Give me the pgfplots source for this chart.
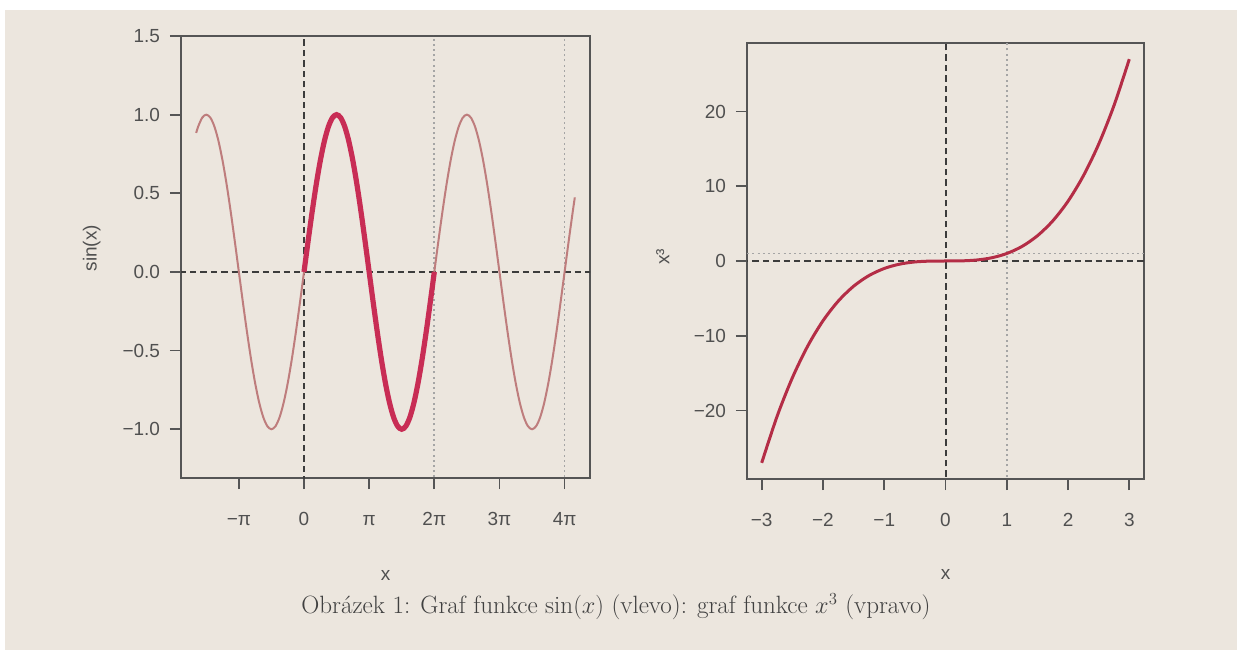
\documentclass[border=0pt]{standalone}
\usepackage{pgfplots}
\usepackage{pgfplotstable}
\pgfplotsset{compat=1.18}
\usepackage{fontspec}
\setsansfont{Liberation Sans}
\definecolor{bg}{RGB}{236,230,222}
\definecolor{axcol}{RGB}{85,85,85}
\definecolor{txtcol}{RGB}{80,80,80}
\definecolor{thinred}{RGB}{190,125,125}
\definecolor{thickred}{RGB}{200,45,85}
\definecolor{cubered}{RGB}{180,45,70}
\definecolor{dashcol}{RGB}{60,60,60}
\definecolor{dotcol}{RGB}{165,165,165}
\newcommand{\lfont}{\sffamily\fontsize{13.5}{15}\selectfont}
\pgfplotstableread{
x y
-5.2000 0.8835
-5.1051 0.9239
-4.9087 0.9808
-4.7124 1
-4.5160 0.9808
-4.3197 0.9239
-4.1233 0.8315
-3.9270 0.7071
-3.7306 0.5556
-3.5343 0.3827
-3.3379 0.1951
-3.1416 0
-2.9452 -0.1951
-2.7489 -0.3827
-2.5525 -0.5556
-2.3562 -0.7071
-2.1598 -0.8315
-1.9635 -0.9239
-1.7671 -0.9808
-1.5708 -1
-1.3744 -0.9808
-1.1781 -0.9239
-0.9817 -0.8315
-0.7854 -0.7071
-0.5890 -0.5556
-0.3927 -0.3827
-0.1963 -0.1951
0.0000 0
0.1963 0.1951
0.3927 0.3827
0.5890 0.5556
0.7854 0.7071
0.9817 0.8315
1.1781 0.9239
1.3744 0.9808
1.5708 1
1.7671 0.9808
1.9635 0.9239
2.1598 0.8315
2.3562 0.7071
2.5525 0.5556
2.7489 0.3827
2.9452 0.1951
3.1416 0
3.3379 -0.1951
3.5343 -0.3827
3.7306 -0.5556
3.9270 -0.7071
4.1233 -0.8315
4.3197 -0.9239
4.5160 -0.9808
4.7124 -1
4.9087 -0.9808
5.1051 -0.9239
5.3014 -0.8315
5.4978 -0.7071
5.6941 -0.5556
5.8905 -0.3827
6.0868 -0.1951
6.2832 0
6.4795 0.1951
6.6759 0.3827
6.8722 0.5556
7.0686 0.7071
7.2649 0.8315
7.4613 0.9239
7.6576 0.9808
7.8540 1
8.0503 0.9808
8.2467 0.9239
8.4430 0.8315
8.6394 0.7071
8.8357 0.5556
9.0321 0.3827
9.2284 0.1951
9.4248 0
9.6211 -0.1951
9.8175 -0.3827
10.0138 -0.5556
10.2102 -0.7071
10.4065 -0.8315
10.6029 -0.9239
10.7992 -0.9808
10.9956 -1
11.1919 -0.9808
11.3883 -0.9239
11.5846 -0.8315
11.7810 -0.7071
11.9773 -0.5556
12.1737 -0.3827
12.3700 -0.1951
12.5664 0
12.7627 0.1951
12.9591 0.3827
13.0600 0.4740
}\sintable
\pgfplotsset{
  rstyle/.style={
    scale only axis,
    axis line style={draw=axcol, line width=0.45mm},
    every tick/.style={draw=axcol, line width=0.45mm},
    tick align=outside,
    xtick pos=bottom, ytick pos=left,
    major tick length=2.8mm,
    tick label style={font=\lfont, text=txtcol},
    yticklabel style={xshift=-1.2mm},
    xticklabel style={yshift=-5.3mm, text height=1.6ex, text depth=0.2ex, anchor=north},
    clip=true,
    axis background/.style={fill=bg},
  },
  dashl/.style={draw=dashcol, line width=0.5mm, dash pattern=on 1.6mm off 1mm},
  dotl/.style={draw=dotcol, line width=0.45mm, dash pattern=on 0.5mm off 0.8mm},
}
\begin{document}
\begin{tikzpicture}
\useasboundingbox (0,0) rectangle (309.25mm,162.5mm);
\fill[white] (0,0) rectangle (309.25mm,162.5mm);
\fill[bg] (1.25mm,0) rectangle (309.25mm,160mm);

% left plot
\begin{axis}[rstyle,
  at={(45.25mm,43mm)}, anchor=south west,
  width=102.25mm, height=110.5mm,
  xmin=-5.932, xmax=13.792,
  ymin=-1.31, ymax=1.5,
  xtick={-3.14159,0,3.14159,6.28319,9.42478,12.56637},
  xticklabels={−π,0,π,2π,3π,4π},
  ytick={-1,-0.5,0,0.5,1,1.5},
  yticklabels={−1.0,−0.5,0.0,0.5,1.0,1.5},
  xlabel={x}, ylabel={sin(x)},
  every axis x label/.style={at={(axis description cs:0.5,-0.22)}, anchor=center, font=\lfont, text=txtcol},
  every axis y label/.style={at={(axis description cs:-0.218,0.52)}, anchor=center, rotate=90, font=\lfont, text=txtcol},
]
\addplot[dashl] coordinates {(-7,0) (15,0)};
\addplot[dashl] coordinates {(0,-2) (0,2)};
\addplot[dotl] coordinates {(6.28319,-2) (6.28319,2)};
\addplot[dotl] coordinates {(12.56637,-2) (12.56637,2)};
\addplot[thinred, line width=0.5mm, smooth] table[x=x,y=y] {\sintable};
\addplot[thickred, line width=1.3mm, smooth, restrict x to domain=-0.01:6.29] table[x=x,y=y] {\sintable};
\end{axis}

% right plot
\begin{axis}[rstyle,
  at={(186.75mm,42.75mm)}, anchor=south west,
  width=99.25mm, height=109mm,
  xmin=-3.24, xmax=3.24,
  ymin=-29.16, ymax=29.16,
  xtick={-3,-2,-1,0,1,2,3},
  xticklabels={−3,−2,−1,0,1,2,3},
  ytick={-20,-10,0,10,20},
  yticklabels={−20,−10,0,10,20},
  xlabel={x}, ylabel={x³},
  every axis x label/.style={at={(axis description cs:0.5,-0.22)}, anchor=center, font=\lfont, text=txtcol},
  every axis y label/.style={at={(axis description cs:-0.212,0.51)}, anchor=center, rotate=90, font=\lfont, text=txtcol},
]
\addplot[dotl] coordinates {(-4,1) (4,1)};
\addplot[dotl] coordinates {(1,-40) (1,40)};
\addplot[dashl] coordinates {(-4,0) (4,0)};
\addplot[dashl] coordinates {(0,-40) (0,40)};
\addplot[cubered, line width=0.75mm, smooth] coordinates {
(-3,-27) (-2.75,-20.797) (-2.5,-15.625) (-2.25,-11.391) (-2,-8) (-1.75,-5.359)
(-1.5,-3.375) (-1.25,-1.953) (-1,-1) (-0.75,-0.422) (-0.5,-0.125) (-0.25,-0.0156)
(0,0) (0.25,0.0156) (0.5,0.125) (0.75,0.422) (1,1) (1.25,1.953) (1.5,3.375)
(1.75,5.359) (2,8) (2.25,11.391) (2.5,15.625) (2.75,20.797) (3,27)};
\end{axis}

\node[text=txtcol!80!black, font=\fontsize{17.8}{20}\selectfont] at (154mm,10.75mm)
  {Obrázek 1: Graf funkce $\sin(x)$ (vlevo): graf funkce $x^3$ (vpravo)};
\end{tikzpicture}
\end{document}
